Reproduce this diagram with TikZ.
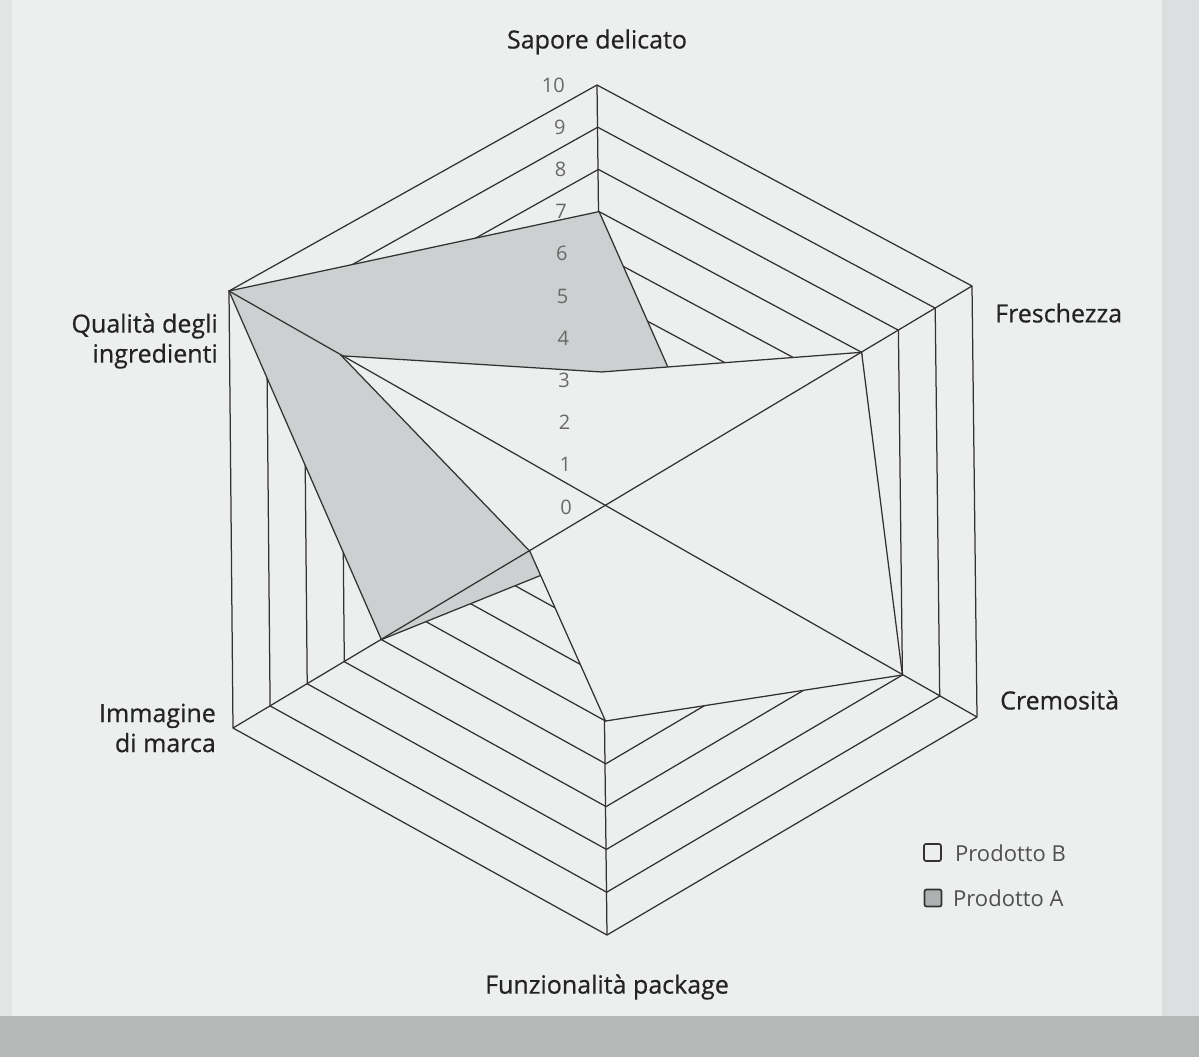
\documentclass[tikz,border=0pt]{standalone}
\usepackage{fontspec}
\setmainfont{Open Sans}
\newfontfamily\labfont[FakeBold=0.6]{Open Sans}
\usetikzlibrary{calc}
\definecolor{paper}{RGB}{237,239,239}
\definecolor{band}{RGB}{182,184,184}
\definecolor{sideband}{RGB}{220,223,223}
\definecolor{ink}{RGB}{50,50,50}
\definecolor{txt}{RGB}{35,35,35}
\definecolor{fillA}{RGB}{205,208,209}
\definecolor{numgray}{RGB}{105,105,105}
\begin{document}
\begin{tikzpicture}[x=1pt,y=-1pt,
  gridline/.style={draw=ink, line width=1.25pt, line join=miter},
  polyA/.style={fill=fillA, draw=ink, line width=1.25pt, line join=miter},
  polyB/.style={fill=paper, draw=ink, line width=1.25pt, line join=miter},
  catlabel/.style={font=\labfont\fontsize{25}{30}\selectfont, text=txt, inner sep=0pt},
  numlabel/.style={font=\fontsize{20}{20}\selectfont, text=numgray, inner sep=0pt, anchor=east},
  legbox/.style={draw=ink, line width=1.7pt, rounded corners=2pt, minimum size=17pt, inner sep=0pt},
  legtext/.style={font=\fontsize{22}{22}\selectfont, text=numgray!75!black, inner sep=0pt, anchor=west}]
\useasboundingbox (0,0) rectangle (1199,1057);
% page background
\fill[paper] (0,0) rectangle (1199,1057);
\fill[sideband] (1162,0) rectangle (1199,1057);
\fill[sideband!60!paper] (0,0) rectangle (12,1057);
\fill[band] (0,1016) rectangle (1199,1057);

% chart frame
\coordinate (C) at (604,507);
\coordinate (V1) at (597,85);
\coordinate (V2) at (972,286);
\coordinate (V3) at (977,717);
\coordinate (V4) at (607,935);
\coordinate (V5) at (233,728);
\coordinate (V6) at (229,291);

% rings
\foreach \k in {1,...,10}{
  \draw[gridline] ($(C)!\k/10!(V1)$) -- ($(C)!\k/10!(V2)$) -- ($(C)!\k/10!(V3)$)
    -- ($(C)!\k/10!(V4)$) -- ($(C)!\k/10!(V5)$) -- ($(C)!\k/10!(V6)$) -- cycle;
}
% vertical axis (under the series)
\draw[gridline] (V1) -- (V4);

% series
\foreach \i/\v in {1/7,2/2.7,3/4,4/1,5/6,6/10}{
  \coordinate (a\i) at ($(C)!\v/10!(V\i)$);
}
\foreach \i/\v in {1/3.2,2/7,3/8,4/5,5/2,6/7}{
  \coordinate (b\i) at ($(C)!\v/10!(V\i)$);
}
\filldraw[polyA] (a1) -- (a2) -- (a3) -- (a4) -- (a5) -- (a6) -- cycle;
\filldraw[polyB] (b1) -- (b2) -- (b3) -- (b4) -- (b5) -- (b6) -- cycle;

% diagonal axes (on top)
\draw[gridline] (V6) -- (V3);
\draw[gridline] (V2) -- (V5);

% scale numbers
\foreach \k in {0,...,10}{
  \node[numlabel] (n\k) at ($($(C)!\k/10!(V1)$)+(-32,0)$) {\k};
}

% category labels
\node[catlabel] (lab1) at (597,42) {Sapore delicato};
\node[catlabel, anchor=west] (lab2) at (995,313) {Freschezza};
\node[catlabel, anchor=west] (lab3) at (1000,700) {Cremosità};
\node[catlabel] (lab4) at (607,987) {Funzionalità package};
\node[catlabel, anchor=east, align=right] (lab5) at (216,728) {Immagine\\di marca};
\node[catlabel, anchor=east, align=right] (lab6) at (218,341) {Qualità degli\\ingredienti};

% legend
\node[legbox, fill=paper] (legB) at (932.5,852.5) {};
\node[legtext] (legBt) at (955,853) {Prodotto B};
\node[legbox, fill=fillA!85!black] (legA) at (933,898) {};
\node[legtext] (legAt) at (953,898) {Prodotto A};
\end{tikzpicture}
\end{document}
